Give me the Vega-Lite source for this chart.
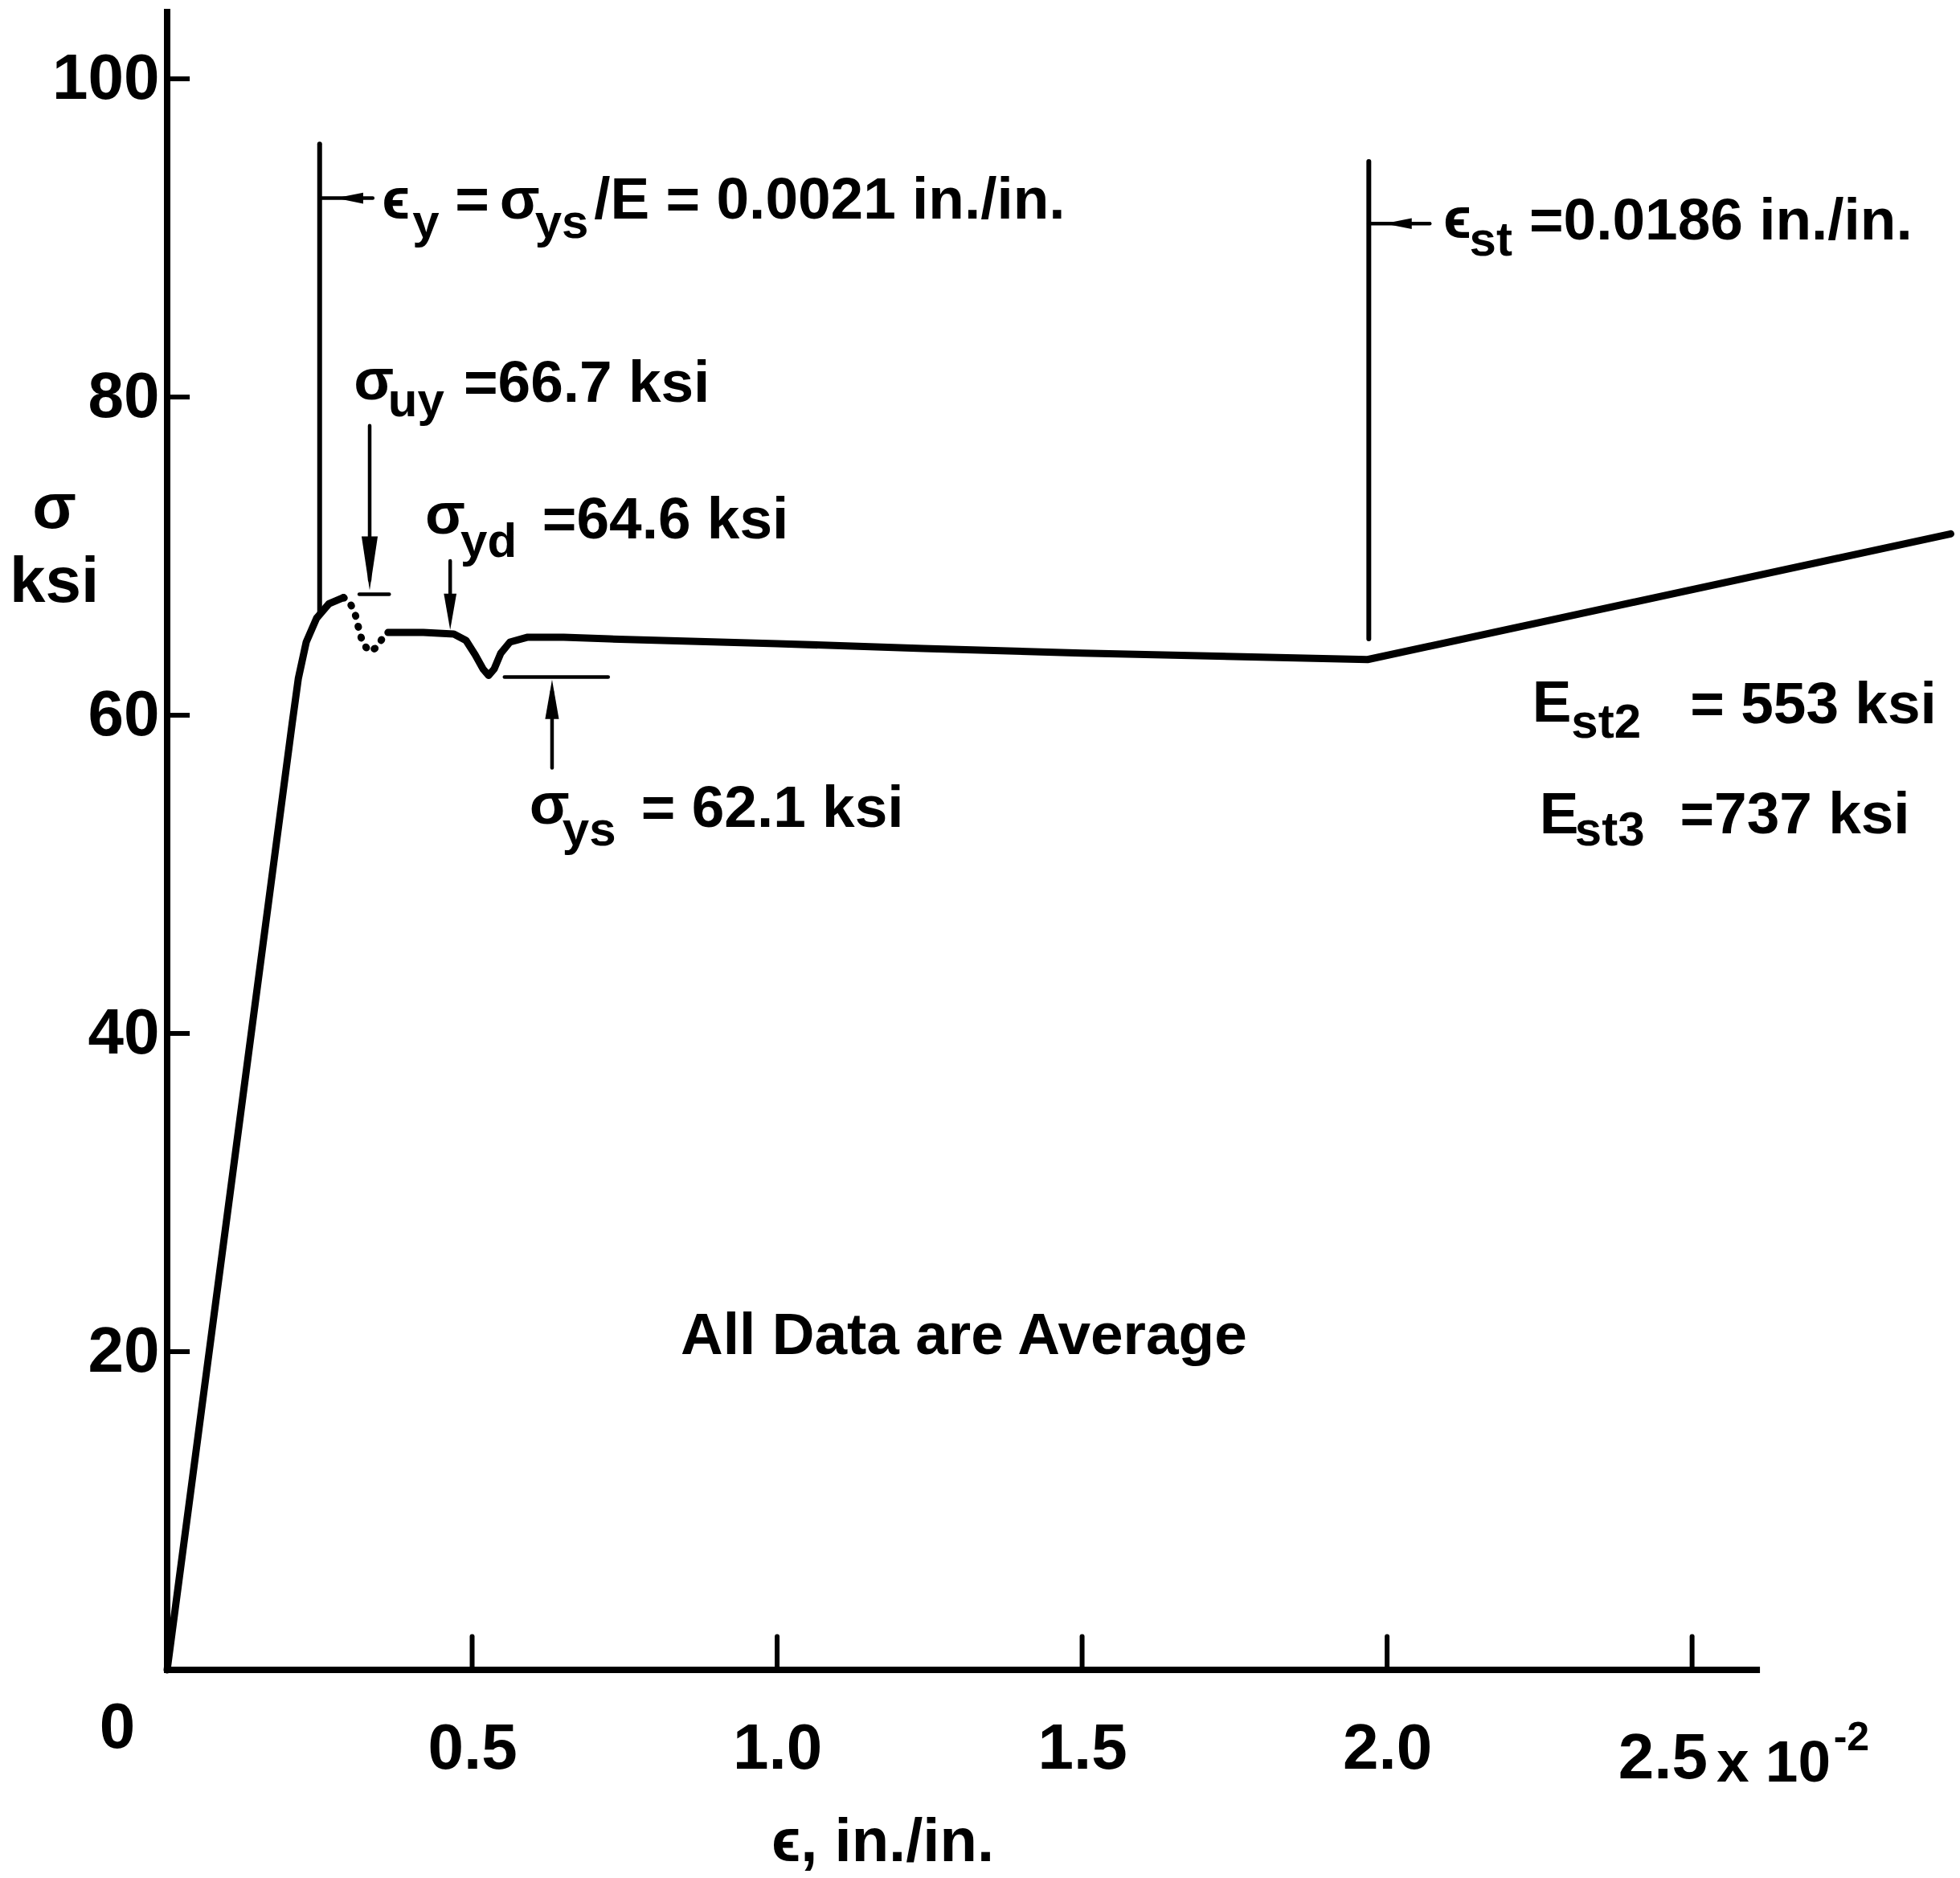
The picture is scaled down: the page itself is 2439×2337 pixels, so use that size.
{
  "$schema": "https://vega.github.io/schema/vega-lite/v6.json",
  "width": 2224,
  "height": 2069,
  "autosize": {"type": "none"},
  "padding": {"left": 208, "top": 9, "right": 7, "bottom": 259},
  "background": "white",
  "config": {
    "view": {"stroke": null},
    "font": "Liberation Sans",
    "axis": {
      "domain": false, "ticks": false, "tickSize": 0, "grid": false,
      "labelFont": "Liberation Sans", "labelFontWeight": "bold", "labelFontSize": 80, "labelColor": "black",
      "labelOverlap": false, "labelFlush": false,
      "titleFont": "Liberation Sans", "titleFontWeight": "bold", "titleColor": "black"
    }
  },
  "datasets": {
    "rise": [
      {"x": 0, "y": 0}, {"x": 0.205, "y": 59.5}, {"x": 0.215, "y": 62.3}, {"x": 0.228, "y": 64.6},
      {"x": 0.245, "y": 66.1}, {"x": 0.265, "y": 67.0}, {"x": 0.289, "y": 67.4}
    ],
    "drop": [
      {"x": 0.289, "y": 67.4}, {"x": 0.298, "y": 67.2}, {"x": 0.308, "y": 66.4}, {"x": 0.315, "y": 65.3},
      {"x": 0.321, "y": 64.5}, {"x": 0.332, "y": 64.0}, {"x": 0.345, "y": 64.3}, {"x": 0.358, "y": 65.2}
    ],
    "plateau": [
      {"x": 0.362, "y": 65.2}, {"x": 0.42, "y": 65.2}, {"x": 0.47, "y": 65.1}, {"x": 0.49, "y": 64.7},
      {"x": 0.505, "y": 63.8}, {"x": 0.518, "y": 62.9}, {"x": 0.527, "y": 62.5}, {"x": 0.536, "y": 62.9},
      {"x": 0.547, "y": 63.9}, {"x": 0.562, "y": 64.6}, {"x": 0.59, "y": 64.9}, {"x": 0.65, "y": 64.9},
      {"x": 0.725, "y": 64.8}, {"x": 1.0, "y": 64.5}, {"x": 1.24, "y": 64.2}, {"x": 1.5, "y": 63.9},
      {"x": 1.968, "y": 63.5}, {"x": 2.924, "y": 71.4}
    ],
    "axislines": [
      {"x": 0, "y": 0, "x2": 2.606, "y2": 0},
      {"x": 0, "y": 0, "x2": 0, "y2": 104.2}
    ],
    "xticks": [{"x": 0.5}, {"x": 1.0}, {"x": 1.5}, {"x": 2.0}, {"x": 2.5}],
    "yticks": [{"y": 20}, {"y": 40}, {"y": 60}, {"y": 80}, {"y": 100}],
    "vlines": [
      {"x": 0.25, "y": 66.3, "x2": 0.25, "y2": 95.9},
      {"x": 1.97, "y": 64.8, "x2": 1.97, "y2": 94.8}
    ],
    "shafts": [
      {"x": 0.25, "y": 92.5, "x2": 0.337, "y2": 92.5},
      {"x": 1.97, "y": 90.9, "x2": 2.07, "y2": 90.9},
      {"x": 0.332, "y": 78.2, "x2": 0.332, "y2": 68.5},
      {"x": 0.464, "y": 69.7, "x2": 0.464, "y2": 66.5},
      {"x": 0.631, "y": 56.7, "x2": 0.631, "y2": 61.5},
      {"x": 0.315, "y": 67.6, "x2": 0.364, "y2": 67.6},
      {"x": 0.553, "y": 62.4, "x2": 0.723, "y2": 62.4}
    ],
    "headsLeft": [{"x": 0.299, "y": 92.5}, {"x": 2.018, "y": 90.9}],
    "headUy": [{"x": 0.332, "y": 69.55}],
    "headYd": [{"x": 0.464, "y": 66.5}],
    "headYs": [{"x": 0.631, "y": 61.0}],
    "mainText": [
      {"x": 0.352, "y": 91.2, "t": "ϵ"},
      {"x": 0.472, "y": 91.2, "t": "="},
      {"x": 0.545, "y": 91.2, "t": "σ"},
      {"x": 0.7, "y": 91.2, "t": "/E = 0.0021 in./in."},
      {"x": 2.092, "y": 90.0, "t": "ϵ"},
      {"x": 2.233, "y": 89.9, "t": "=0.0186 in./in."},
      {"x": 0.306, "y": 79.85, "t": "σ"},
      {"x": 0.486, "y": 79.7, "t": "=66.7 ksi"},
      {"x": 0.423, "y": 71.4, "t": "σ"},
      {"x": 0.615, "y": 71.1, "t": "=64.6 ksi"},
      {"x": 0.594, "y": 53.2, "t": "σ"},
      {"x": 0.777, "y": 53.0, "t": "= 62.1 ksi"},
      {"x": 2.238, "y": 59.6, "t": "E"},
      {"x": 2.497, "y": 59.5, "t": "= 553 ksi"},
      {"x": 2.25, "y": 52.6, "t": "E"},
      {"x": 2.48, "y": 52.6, "t": "=737 ksi"},
      {"x": 0.842, "y": 19.85, "t": "All Data are Average"},
      {"x": 2.54, "y": -7.0, "t": "x 10"}
    ],
    "subText": [
      {"x": 0.402, "y": 90.0, "t": "y"},
      {"x": 0.603, "y": 90.0, "t": "ys"},
      {"x": 2.135, "y": 88.9, "t": "st"},
      {"x": 0.362, "y": 78.8, "t": "uy"},
      {"x": 0.481, "y": 69.95, "t": "yd"},
      {"x": 0.648, "y": 51.8, "t": "ys"},
      {"x": 2.302, "y": 58.6, "t": "st2"},
      {"x": 2.308, "y": 51.8, "t": "st3"}
    ],
    "tickText": [
      {"x": -0.111, "y": -4.9, "t": "0"},
      {"x": 2.379, "y": -6.8, "t": "2.5"}
    ],
    "supText": [{"x": 2.732, "y": -5.05, "t": "-2"}]
  },
  "layer": [
    {
      "data": {"name": "rise"},
      "mark": {"type": "line", "color": "black", "strokeWidth": 9, "strokeCap": "round", "strokeJoin": "round"},
      "encoding": {
        "x": {
          "field": "x", "type": "quantitative",
          "scale": {"domain": [0, 2.93], "nice": false, "zero": false},
          "axis": {
            "values": [0.5, 1.0, 1.5, 2.0], "format": ".1f",
            "labelBaseline": "alphabetic", "labelPadding": 122,
            "title": "ϵ, in./in.", "titleFontSize": 76,
            "titleX": 890, "titleY": 237, "titleBaseline": "alphabetic", "titleAlign": "center"
          }
        },
        "y": {
          "field": "y", "type": "quantitative",
          "scale": {"domain": [0, 104.5], "nice": false, "zero": false},
          "axis": {
            "values": [20, 40, 60, 80, 100],
            "labelPadding": 10,
            "title": ["σ", "ksi"], "titleFontSize": 80,
            "titleAngle": 0, "titleX": -141, "titleY": 647, "titleBaseline": "alphabetic",
            "titleAlign": "center", "titleLineHeight": 92
          }
        }
      }
    },
    {
      "data": {"name": "drop"},
      "mark": {"type": "line", "color": "black", "strokeWidth": 9, "strokeCap": "round", "strokeDash": [1, 13]},
      "encoding": {
        "x": {"field": "x", "type": "quantitative"},
        "y": {"field": "y", "type": "quantitative"}
      }
    },
    {
      "data": {"name": "plateau"},
      "mark": {"type": "line", "color": "black", "strokeWidth": 9, "strokeCap": "round", "strokeJoin": "round"},
      "encoding": {
        "x": {"field": "x", "type": "quantitative"},
        "y": {"field": "y", "type": "quantitative"}
      }
    },
    {
      "data": {"name": "axislines"},
      "mark": {"type": "rule", "color": "black", "strokeWidth": 8, "strokeCap": "square"},
      "encoding": {
        "x": {"field": "x", "type": "quantitative"},
        "x2": {"field": "x2"},
        "y": {"field": "y", "type": "quantitative"},
        "y2": {"field": "y2"}
      }
    },
    {
      "data": {"name": "xticks"},
      "mark": {"type": "rule", "color": "black", "strokeWidth": 6, "strokeCap": "round"},
      "encoding": {
        "x": {"field": "x", "type": "quantitative"},
        "y": {"datum": 0, "type": "quantitative"},
        "y2": {"datum": 2.1}
      }
    },
    {
      "data": {"name": "yticks"},
      "mark": {"type": "rule", "color": "black", "strokeWidth": 6, "strokeCap": "butt"},
      "encoding": {
        "y": {"field": "y", "type": "quantitative"},
        "x": {"datum": 0, "type": "quantitative"},
        "x2": {"datum": 0.037}
      }
    },
    {
      "data": {"name": "vlines"},
      "mark": {"type": "rule", "color": "black", "strokeWidth": 6, "strokeCap": "round"},
      "encoding": {
        "x": {"field": "x", "type": "quantitative"},
        "x2": {"field": "x2"},
        "y": {"field": "y", "type": "quantitative"},
        "y2": {"field": "y2"}
      }
    },
    {
      "data": {"name": "shafts"},
      "mark": {"type": "rule", "color": "black", "strokeWidth": 4.5, "strokeCap": "round"},
      "encoding": {
        "x": {"field": "x", "type": "quantitative"},
        "x2": {"field": "x2"},
        "y": {"field": "y", "type": "quantitative"},
        "y2": {"field": "y2"}
      }
    },
    {
      "data": {"name": "headsLeft"},
      "mark": {"type": "point", "shape": "M-1,0L1,-0.4L1,0.4Z", "size": 1156, "filled": true, "color": "black", "opacity": 1},
      "encoding": {
        "x": {"field": "x", "type": "quantitative"},
        "y": {"field": "y", "type": "quantitative"}
      }
    },
    {
      "data": {"name": "headUy"},
      "mark": {"type": "point", "shape": "M-0.3,-1L0.3,-1L0,1Z", "size": 4489, "filled": true, "color": "black", "opacity": 1},
      "encoding": {
        "x": {"field": "x", "type": "quantitative"},
        "y": {"field": "y", "type": "quantitative"}
      }
    },
    {
      "data": {"name": "headYd"},
      "mark": {"type": "point", "shape": "M-0.35,-1L0.35,-1L0,1Z", "size": 2025, "filled": true, "color": "black", "opacity": 1},
      "encoding": {
        "x": {"field": "x", "type": "quantitative"},
        "y": {"field": "y", "type": "quantitative"}
      }
    },
    {
      "data": {"name": "headYs"},
      "mark": {"type": "point", "shape": "M0,-1L0.35,1L-0.35,1Z", "size": 2400, "filled": true, "color": "black", "opacity": 1},
      "encoding": {
        "x": {"field": "x", "type": "quantitative"},
        "y": {"field": "y", "type": "quantitative"}
      }
    },
    {
      "data": {"name": "mainText"},
      "mark": {"type": "text", "align": "left", "baseline": "alphabetic", "font": "Liberation Sans, DejaVu Sans", "fontWeight": "bold", "fontSize": 73, "color": "black"},
      "encoding": {
        "x": {"field": "x", "type": "quantitative"},
        "y": {"field": "y", "type": "quantitative"},
        "text": {"field": "t"}
      }
    },
    {
      "data": {"name": "subText"},
      "mark": {"type": "text", "align": "left", "baseline": "alphabetic", "font": "Liberation Sans", "fontWeight": "bold", "fontSize": 60, "color": "black"},
      "encoding": {
        "x": {"field": "x", "type": "quantitative"},
        "y": {"field": "y", "type": "quantitative"},
        "text": {"field": "t"}
      }
    },
    {
      "data": {"name": "tickText"},
      "mark": {"type": "text", "align": "left", "baseline": "alphabetic", "font": "Liberation Sans", "fontWeight": "bold", "fontSize": 80, "color": "black"},
      "encoding": {
        "x": {"field": "x", "type": "quantitative"},
        "y": {"field": "y", "type": "quantitative"},
        "text": {"field": "t"}
      }
    },
    {
      "data": {"name": "supText"},
      "mark": {"type": "text", "align": "left", "baseline": "alphabetic", "font": "Liberation Sans", "fontWeight": "bold", "fontSize": 50, "color": "black"},
      "encoding": {
        "x": {"field": "x", "type": "quantitative"},
        "y": {"field": "y", "type": "quantitative"},
        "text": {"field": "t"}
      }
    }
  ]
}
